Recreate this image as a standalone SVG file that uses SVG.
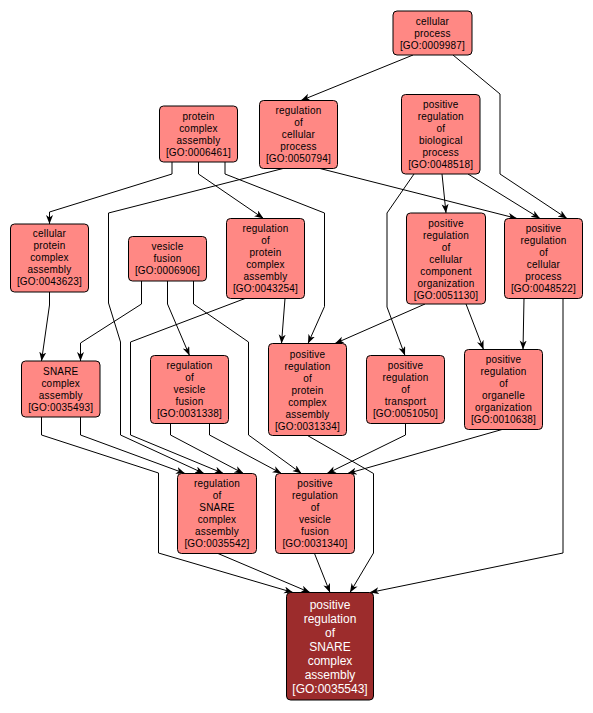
<svg xmlns="http://www.w3.org/2000/svg" width="593" height="713" viewBox="0 0 593 713">
<defs>
<marker id="ah" markerUnits="userSpaceOnUse" markerWidth="10" markerHeight="8" refX="9" refY="3.5" orient="auto">
<path d="M0,0 L9,3.5 L0,7 L2.5,3.5 z" fill="#000"/>
</marker>
<style>
.e{fill:none;stroke:#000;stroke-width:1;marker-end:url(#ah)}
.n rect{fill:#ff8884;stroke:#000;stroke-width:1}
.n text{font-family:"Liberation Sans",Arial,sans-serif;font-size:10px;letter-spacing:0.2px;fill:#000;text-anchor:middle}
.d rect{fill:#9c2c2c;stroke:#000;stroke-width:1}
.d text{font-family:"Liberation Sans",Arial,sans-serif;font-size:12px;fill:#fff;text-anchor:middle}
</style>
</defs>
<rect width="593" height="713" fill="#fff"/>
<g id="edges">
<path class="e" d="M413,55 L301,100.5"/>
<path class="e" d="M453,55 L500,94 L500,174 L567,218.5"/>
<path class="e" d="M468,174 L540,218.5"/>
<path class="e" d="M442,174 L446,213"/>
<path class="e" d="M414,174 L387,213 L387,307 L405,355.5"/>
<path class="e" d="M320,168.5 L517,218.5"/>
<path class="e" d="M283,168.5 L108.5,213 L108.5,303 L120.5,342 L120.5,435 L204,473.5"/>
<path class="e" d="M172,162 L172,174 L49.5,212 L49.5,224"/>
<path class="e" d="M198.5,162 L198.5,174 L263.5,218.5"/>
<path class="e" d="M225,162 L225,174 L324.5,213 L324.5,306.5 L308,343.5"/>
<path class="e" d="M49.5,292 L49.5,305 L41.5,361"/>
<path class="e" d="M141.5,281 L141.5,304 L80.5,343 L80.5,361"/>
<path class="e" d="M167.5,281 L167.5,304 L189.5,355.5"/>
<path class="e" d="M193.5,281 L193.5,304 L248.5,342 L248.5,435 L301.5,473.5"/>
<path class="e" d="M285,298.5 L281.5,343.5"/>
<path class="e" d="M245,298.5 L130.5,342 L130.5,435 L223.5,473.5"/>
<path class="e" d="M425,304 L335,343.5"/>
<path class="e" d="M466,304 L483.5,349.5"/>
<path class="e" d="M524,298.5 L523,349.5"/>
<path class="e" d="M563,298.5 L563,553 L370,592.5"/>
<path class="e" d="M80.5,417 L80.5,435 L185,473.5"/>
<path class="e" d="M41.5,417 L41.5,435 L158.5,473 L158.5,553 L293,592.5"/>
<path class="e" d="M170.5,423.5 L170.5,435 L243.5,473.5"/>
<path class="e" d="M209.5,423.5 L209.5,435 L281.5,473.5"/>
<path class="e" d="M405.5,423.5 L405.5,435 L327,473.5"/>
<path class="e" d="M502,429.5 L347.5,473.5"/>
<path class="e" d="M307.5,435.5 L373.5,473.5 L373.5,553 L350,592.5"/>
<path class="e" d="M218,553.5 L310,592.5"/>
<path class="e" d="M314.5,553.5 L330,592.5"/>
</g>
<g id="GO0009987" class="n"><rect x="393" y="11" width="79" height="44" rx="4"/>
<text x="432.5" y="24.5">cellular</text><text x="432.5" y="36.5">process</text><text x="432.5" y="48.5">[GO:0009987]</text></g>
<g id="GO0048518" class="n"><rect x="401.5" y="94.5" width="78.5" height="79.5" rx="4"/>
<text x="440.75" y="107.5">positive</text><text x="440.75" y="119.5">regulation</text><text x="440.75" y="131.5">of</text><text x="440.75" y="143.5">biological</text><text x="440.75" y="155.5">process</text><text x="440.75" y="167.5">[GO:0048518]</text></g>
<g id="GO0006461" class="n"><rect x="159.5" y="106" width="78" height="56" rx="4"/>
<text x="198.5" y="119.5">protein</text><text x="198.5" y="131.5">complex</text><text x="198.5" y="143.5">assembly</text><text x="198.5" y="155.5">[GO:0006461]</text></g>
<g id="GO0050794" class="n"><rect x="259.5" y="100.5" width="78" height="68" rx="4"/>
<text x="298.5" y="113.5">regulation</text><text x="298.5" y="125.5">of</text><text x="298.5" y="137.5">cellular</text><text x="298.5" y="149.5">process</text><text x="298.5" y="161.5">[GO:0050794]</text></g>
<g id="GO0043623" class="n"><rect x="10.5" y="224" width="78" height="68" rx="4"/>
<text x="49.5" y="237">cellular</text><text x="49.5" y="249">protein</text><text x="49.5" y="261">complex</text><text x="49.5" y="273">assembly</text><text x="49.5" y="285">[GO:0043623]</text></g>
<g id="GO0006906" class="n"><rect x="128.5" y="236.5" width="78" height="44.5" rx="4"/>
<text x="167.5" y="250">vesicle</text><text x="167.5" y="262">fusion</text><text x="167.5" y="274">[GO:0006906]</text></g>
<g id="GO0043254" class="n"><rect x="226.5" y="218.5" width="78" height="80" rx="4"/>
<text x="265.5" y="232">regulation</text><text x="265.5" y="244">of</text><text x="265.5" y="256">protein</text><text x="265.5" y="268">complex</text><text x="265.5" y="280">assembly</text><text x="265.5" y="292">[GO:0043254]</text></g>
<g id="GO0051130" class="n"><rect x="406.5" y="213" width="79" height="91" rx="4"/>
<text x="446" y="227">positive</text><text x="446" y="239">regulation</text><text x="446" y="251">of</text><text x="446" y="263">cellular</text><text x="446" y="275">component</text><text x="446" y="287">organization</text><text x="446" y="299">[GO:0051130]</text></g>
<g id="GO0048522" class="n"><rect x="504.5" y="218.5" width="78" height="80" rx="4"/>
<text x="543.5" y="232">positive</text><text x="543.5" y="244">regulation</text><text x="543.5" y="256">of</text><text x="543.5" y="268">cellular</text><text x="543.5" y="280">process</text><text x="543.5" y="292">[GO:0048522]</text></g>
<g id="GO0035493" class="n"><rect x="21.5" y="361" width="78.5" height="56" rx="4"/>
<text x="60.75" y="374.5">SNARE</text><text x="60.75" y="386.5">complex</text><text x="60.75" y="398.5">assembly</text><text x="60.75" y="410.5">[GO:0035493]</text></g>
<g id="GO0031338" class="n"><rect x="150.5" y="355.5" width="78" height="68" rx="4"/>
<text x="189.5" y="369">regulation</text><text x="189.5" y="381">of</text><text x="189.5" y="393">vesicle</text><text x="189.5" y="405">fusion</text><text x="189.5" y="417">[GO:0031338]</text></g>
<g id="GO0031334" class="n"><rect x="268.5" y="343.5" width="78" height="92" rx="4"/>
<text x="307.5" y="357.5">positive</text><text x="307.5" y="369.5">regulation</text><text x="307.5" y="381.5">of</text><text x="307.5" y="393.5">protein</text><text x="307.5" y="405.5">complex</text><text x="307.5" y="417.5">assembly</text><text x="307.5" y="429.5">[GO:0031334]</text></g>
<g id="GO0051050" class="n"><rect x="366.5" y="355.5" width="78" height="68" rx="4"/>
<text x="405.5" y="369">positive</text><text x="405.5" y="381">regulation</text><text x="405.5" y="393">of</text><text x="405.5" y="405">transport</text><text x="405.5" y="417">[GO:0051050]</text></g>
<g id="GO0010638" class="n"><rect x="464.5" y="349.5" width="78" height="80" rx="4"/>
<text x="503.5" y="363">positive</text><text x="503.5" y="375">regulation</text><text x="503.5" y="387">of</text><text x="503.5" y="399">organelle</text><text x="503.5" y="411">organization</text><text x="503.5" y="423">[GO:0010638]</text></g>
<g id="GO0035542" class="n"><rect x="177.5" y="473.5" width="79" height="80" rx="4"/>
<text x="217" y="487">regulation</text><text x="217" y="499">of</text><text x="217" y="511">SNARE</text><text x="217" y="523">complex</text><text x="217" y="535">assembly</text><text x="217" y="547">[GO:0035542]</text></g>
<g id="GO0031340" class="n"><rect x="275.5" y="473.5" width="79" height="80" rx="4"/>
<text x="315" y="487">positive</text><text x="315" y="499">regulation</text><text x="315" y="511">of</text><text x="315" y="523">vesicle</text><text x="315" y="535">fusion</text><text x="315" y="547">[GO:0031340]</text></g>
<g id="GO0035543" class="d"><rect x="286.5" y="592.5" width="87" height="107.5" rx="4"/>
<text x="330" y="608.5">positive</text><text x="330" y="622.5">regulation</text><text x="330" y="636.5">of</text><text x="330" y="650.5">SNARE</text><text x="330" y="664.5">complex</text><text x="330" y="678.5">assembly</text><text x="330" y="692.5">[GO:0035543]</text></g>
</svg>
